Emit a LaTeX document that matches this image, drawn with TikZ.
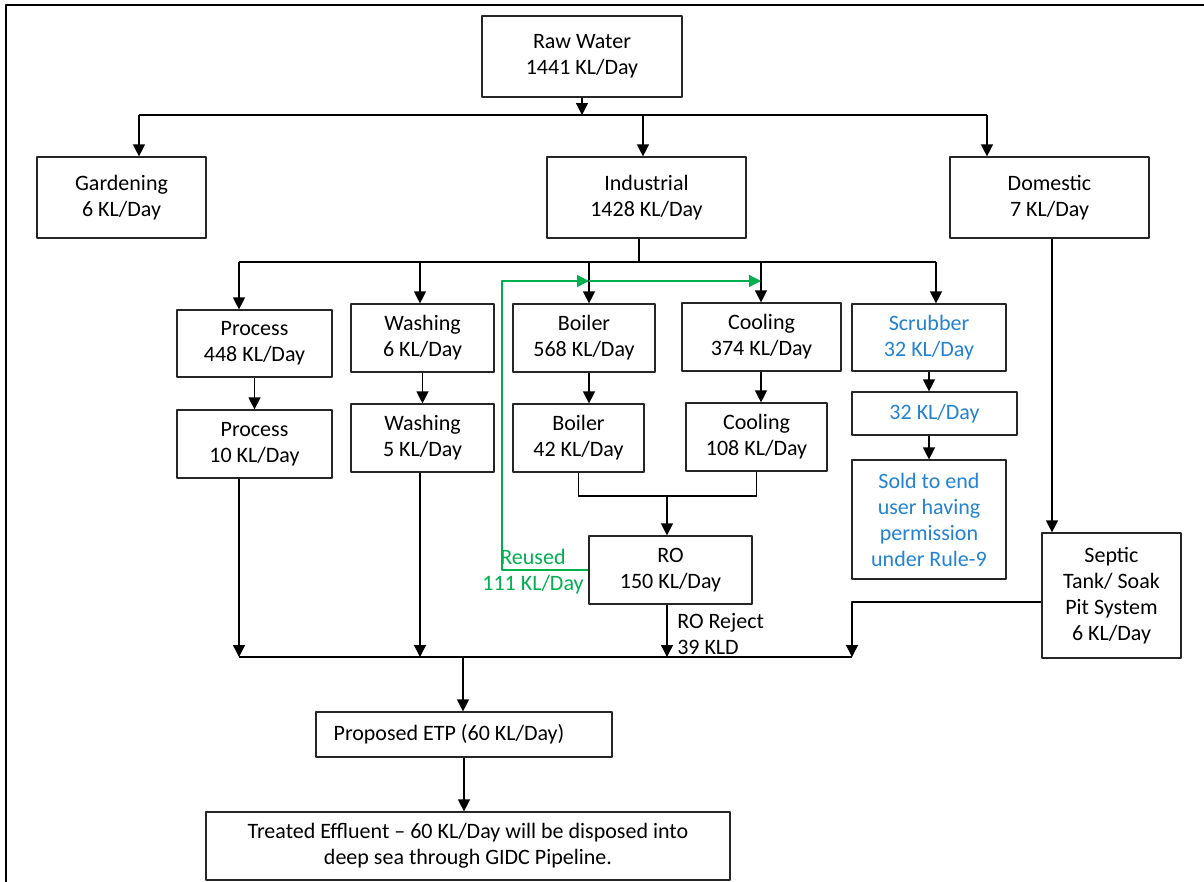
\documentclass[tikz,border=0pt]{standalone}
\usepackage{fontspec}
\setmainfont{Carlito}
\usetikzlibrary{arrows.meta}
\definecolor{sblue}{RGB}{35,130,210}
\definecolor{rgreen}{RGB}{0,176,80}
\tikzset{
	box/.style n args={2}{draw=black!85, line width=0.9pt, align=center, inner sep=0pt, minimum width=#1*0.75pt, minimum height=#2*0.75pt},
	arr/.style={line width=1pt, -{Triangle[width=9pt,length=9pt]}},
	link/.style={line width=1pt},
}
\begin{document}
\begin{tikzpicture}[x=0.75pt, y=-0.75pt, line join=round, font=\fontsize{16.5}{19.5}\selectfont]
			\useasboundingbox (0,0) rectangle (1204,882);
			\draw[line width=1.6pt] (6,882) -- (6,5) -- (1204,5);
			\node[box={200}{81}] (raw) at (582,56.5) {Raw Water\\1441 KL/Day};
			\node[box={169}{81}] (gard) at (121.5,197.5) {Gardening\\6 KL/Day};
			\node[box={199}{81}] (ind) at (646.5,197.5) {Industrial\\1428 KL/Day};
			\node[box={199}{81}] (dom) at (1049.5,197.5) {Domestic\\7 KL/Day};
			\node[box={155}{67}] (proc1) at (254.5,343.5) {Process\\448 KL/Day};
			\node[box={143}{68}] (wash1) at (422.5,338) {Washing\\6 KL/Day};
			\node[box={142}{68}] (boil1) at (584,338) {Boiler\\568 KL/Day};
			\node[box={159}{68}] (cool1) at (761.5,337) {Cooling\\374 KL/Day};
			\node[box={154}{67}, text=sblue] (scrub) at (929,337.5) {Scrubber\\32 KL/Day};
			\node[box={155}{68}] (proc2) at (254.5,444) {Process\\10 KL/Day};
			\node[box={143}{68}] (wash2) at (422.5,438) {Washing\\5 KL/Day};
			\node[box={131}{68}] (boil2) at (578.5,438) {Boiler\\42 KL/Day};
			\node[box={141}{68}] (cool2) at (756.5,437) {Cooling\\108 KL/Day};
			\node[box={165}{43}, text=sblue] (scrub2) at (934.5,413.5) {32 KL/Day};
			\node[box={154}{119}, text=sblue] (sold) at (929,519.5) {Sold to end\\user having\\permission\\under Rule-9};
			\node[box={163}{68}] (ro) at (670.5,570) {RO\\150 KL/Day};
			\node[box={139}{125}] (septic) at (1111.5,595.5) {Septic\\Tank/ Soak\\Pit System\\6 KL/Day};
			\node[box={296}{45}] (etp) at (464,734.5) {Proposed ETP (60 KL/Day)\hspace{22.5pt}};
			\node[box={524}{68}] (treat) at (468,846) {Treated Effluent – 60 KL/Day will be disposed into\\deep sea through GIDC Pipeline.};
			\node[text=rgreen, align=center, inner sep=0pt] (reuse) at (533,572) {Reused\\111 KL/Day};
			\node[align=left, anchor=west, inner sep=0pt] (reject) at (677,634) {RO Reject\\39 KLD};
			\coordinate (top) at (582,115);
			\coordinate (tg) at (139,115);
			\coordinate (ti) at (643,115);
			\coordinate (td) at (987,115);
			\coordinate (mid) at (639,262);
			\coordinate (tp) at (239,262);
			\coordinate (tw) at (420,262);
			\coordinate (tb) at (589,262);
			\coordinate (tc) at (761,262);
			\coordinate (ts) at (936,262);
			\coordinate (gr) at (502,281);
			\coordinate (rj) at (667,496);
			\coordinate (bot) at (463,657);
			\coordinate (sp) at (852,602);
			\coordinate (dl) at (1052,238);
			\draw[arr] (raw.south) -- (top);
			\draw[link] (tg) -- (td);
			\draw[arr] (tg) -- (tg |- gard.north);
			\draw[arr] (ti) -- (ti |- ind.north);
			\draw[arr] (td) -- (td |- dom.north);
			\draw[link] (mid |- ind.south) -- (mid);
			\draw[link] (tp) -- (ts);
			\draw[arr] (tp) -- (tp |- proc1.north);
			\draw[arr] (tw) -- (tw |- wash1.north);
			\draw[arr] (tb) -- (tb |- boil1.north);
			\draw[arr] (tc) -- (tc |- cool1.north);
			\draw[arr] (ts) -- (ts |- scrub.north);
			\draw[arr] (proc1.south) -- (proc2.north);
			\draw[arr] (wash1.south) -- (wash2.north);
			\draw[arr] (tb |- boil1.south) -- (tb |- boil2.north);
			\draw[arr] (tc |- cool1.south) -- (tc |- cool2.north);
			\draw[arr] (scrub.south) -- (scrub.south |- scrub2.north);
			\draw[arr] (scrub.south |- scrub2.south) -- (scrub.south |- sold.north);
			\draw[link] (boil2.south) |- (rj) -| (cool2.south);
			\draw[arr] (rj) -- (rj |- ro.north);
			\draw[arr] (rj |- ro.south) -- (rj |- bot);
			\draw[arr, rgreen] (ro.west) -| (gr) -- (tb |- gr);
			\draw[arr, rgreen] (tb |- gr) -- (tc |- gr);
			\draw[arr] (tp |- proc2.south) -- (tp |- bot);
			\draw[arr] (tw |- wash2.south) -- (tw |- bot);
			\draw[link] (tp |- bot) -- (sp |- bot);
			\draw[arr] (dl |- dom.south) -- (dl |- septic.north);
			\draw[arr] (septic.west |- sp) -- (sp) -- (sp |- bot);
			\draw[arr] (bot) -- (bot |- etp.north);
			\draw[arr] (etp.south) -- (etp.south |- treat.north);
		\end{tikzpicture}
\end{document}
